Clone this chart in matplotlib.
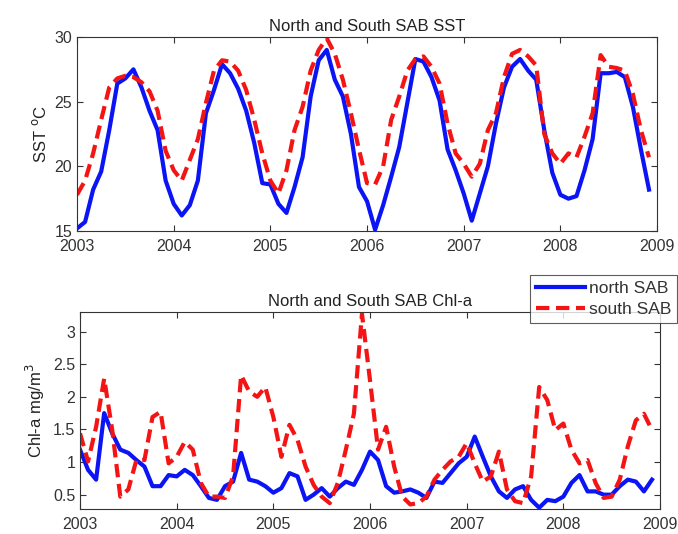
import numpy as np
import matplotlib
matplotlib.use("Agg")
import matplotlib.pyplot as plt

plt.rcParams['font.family'] = ['Liberation Sans', 'DejaVu Sans']

years_start = 2003
n_months = 72

sst_north = [15.2, 15.7, 18.2, 19.6, 22.8, 26.4, 26.8, 27.5, 26.1, 24.3, 22.8, 18.9,
             17.1, 16.2, 17.0, 18.9, 24.1, 25.9, 27.9, 27.2, 26.0, 24.3, 21.8, 18.7,
             18.6, 17.1, 16.4, 18.4, 20.7, 25.4, 28.2, 29.0, 26.7, 25.4, 22.5, 18.4,
             17.3, 15.1, 17.0, 19.2, 21.5, 24.9, 28.3, 28.1, 26.9, 25.1, 21.3, 19.7,
             17.9, 15.8, 17.9, 20.0, 23.3, 26.1, 27.7, 28.3, 27.4, 26.7, 22.8, 19.5,
             17.8, 17.5, 17.7, 19.7, 22.1, 27.2, 27.2, 27.3, 26.9, 24.6, 21.3, 18.2]

sst_south = [17.8, 18.9, 21.0, 23.6, 26.1, 26.8, 27.0, 26.9, 26.5, 25.8, 24.3, 21.2,
             19.7, 18.9, 20.5, 22.1, 24.9, 27.4, 28.2, 28.1, 27.4, 25.9, 23.6, 21.0,
             18.9, 17.9, 19.7, 22.8, 24.6, 27.4, 29.0, 29.9, 28.7, 26.7, 24.1, 21.3,
             18.7, 18.6, 20.0, 23.6, 25.4, 27.4, 28.3, 28.5, 27.7, 26.4, 23.3, 21.0,
             20.2, 19.2, 20.2, 22.8, 24.1, 26.9, 28.7, 29.0, 28.5, 27.8, 22.5, 21.0,
             20.2, 21.0, 20.7, 22.3, 24.1, 28.6, 27.7, 27.6, 27.4, 25.6, 22.8, 20.7]

chl_north = [1.19, 0.88, 0.73, 1.75, 1.44, 1.19, 1.14, 1.03, 0.93, 0.63, 0.63, 0.80,
             0.78, 0.88, 0.80, 0.63, 0.45, 0.42, 0.63, 0.70, 1.14, 0.73, 0.70, 0.63,
             0.53, 0.60, 0.83, 0.78, 0.42, 0.50, 0.60, 0.47, 0.60, 0.70, 0.65, 0.88,
             1.16, 1.03, 0.63, 0.53, 0.55, 0.58, 0.53, 0.45, 0.70, 0.68, 0.83, 0.98,
             1.08, 1.39, 1.08, 0.78, 0.55, 0.45, 0.58, 0.63, 0.42, 0.30, 0.42, 0.40,
             0.47, 0.68, 0.80, 0.55, 0.55, 0.50, 0.50, 0.63, 0.73, 0.70, 0.55, 0.73]

chl_south = [1.44, 1.01, 1.54, 2.28, 1.49, 0.47, 0.58, 1.03, 1.03, 1.69, 1.77, 0.98,
             1.08, 1.31, 1.19, 0.68, 0.47, 0.47, 0.45, 0.78, 2.33, 2.08, 2.00, 2.15,
             1.69, 1.08, 1.57, 1.34, 0.93, 0.65, 0.47, 0.37, 0.68, 1.19, 1.74, 3.27,
             2.25, 1.19, 1.54, 0.93, 0.47, 0.35, 0.37, 0.47, 0.73, 0.88, 1.01, 1.08,
             1.29, 0.98, 0.70, 0.78, 1.16, 0.58, 0.40, 0.37, 0.78, 2.15, 1.95, 1.49,
             1.59, 1.19, 0.98, 1.03, 0.68, 0.45, 0.47, 0.73, 1.24, 1.64, 1.74, 1.49]

x_ticks = [2003, 2004, 2005, 2006, 2007, 2008, 2009]
sst_ticks = [15, 20, 25, 30]
chl_ticks = [0.5, 1, 1.5, 2, 2.5, 3]
chl_tick_labels = ['0.5', '1', '1.5', '2', '2.5', '3']

t = years_start + np.arange(n_months) / 12.0

fig = plt.figure(figsize=(6.78, 5.34), dpi=100)
ax1 = fig.add_axes([0.1136, 0.5674, 0.8555, 0.3633])
ax2 = fig.add_axes([0.1180, 0.0468, 0.8555, 0.3690])

lw = 3.0
dash = (3.2, 1.6)
for ax in (ax1, ax2):
    ax.tick_params(direction='in', top=True, right=True, labelsize=11.5,
                   length=4, width=0.8, colors='#333333', labelcolor='#333333')
    ax.tick_params(axis='x', pad=6)
    for s in ax.spines.values():
        s.set_color('#333333')
        s.set_linewidth(0.8)
    ax.set_xlim(2003, 2009)
    ax.set_xticks(x_ticks)

ax1.plot(t, sst_north, color='#0a14f5', lw=lw, solid_joinstyle='round')
ax1.plot(t, sst_south, color='#f51414', lw=lw, dashes=dash)
ax1.set_ylim(15, 30)
ax1.set_yticks(sst_ticks)
ax1.set_ylabel('SST $^{\\rm o}$C', fontsize=12, color='#222222')
ax1.set_title('North and South SAB SST', fontsize=12, color='#222222', pad=4)

l1, = ax2.plot(t, chl_north, color='#0a14f5', lw=lw, solid_joinstyle='round', label='north SAB')
l2, = ax2.plot(t, chl_south, color='#f51414', lw=lw, dashes=dash, label='south SAB')
ax2.set_ylim(0.28, 3.3)
ax2.set_yticks(chl_ticks)
ax2.set_yticklabels(chl_tick_labels)
ax2.set_ylabel('Chl-a mg/m$^{\\rm 3}$', fontsize=12, color='#222222')
ax2.set_title('North and South SAB Chl-a', fontsize=12, color='#222222', pad=4)

leg = fig.legend(handles=[l1, l2], loc='upper right',
                 bbox_to_anchor=(0.999, 1 - 275/534), fontsize=12.5,
                 frameon=True, fancybox=False, edgecolor='#333333',
                 handlelength=2.8, handletextpad=0.25, borderpad=0.35,
                 labelspacing=0.3, borderaxespad=0.0)
leg.get_frame().set_linewidth(0.8)
for txt in leg.get_texts():
    txt.set_color('#333333')

fig.savefig('out.png', dpi=100)
